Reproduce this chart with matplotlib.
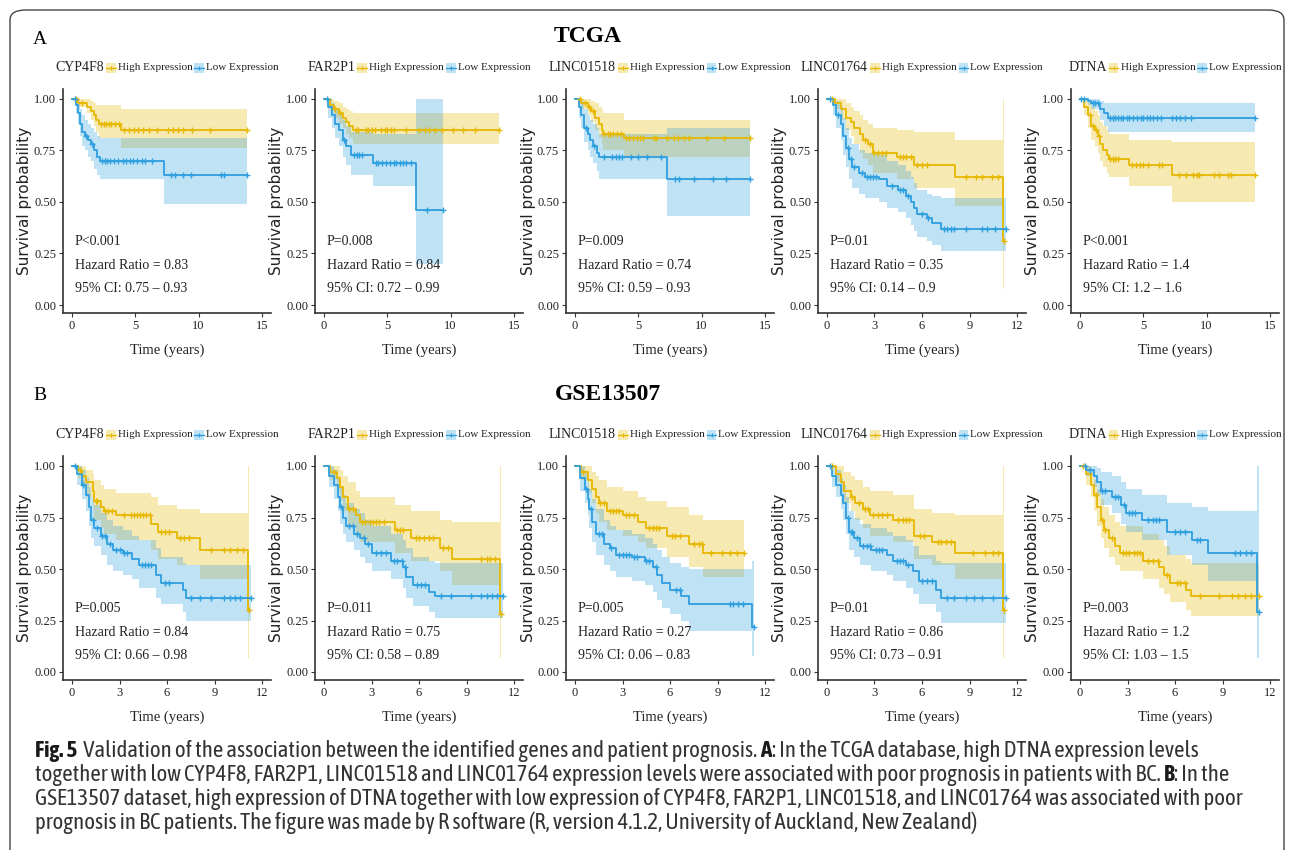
import numpy as np
import matplotlib
matplotlib.use("Agg")
import matplotlib.pyplot as plt
from matplotlib import font_manager
from matplotlib.lines import Line2D
from matplotlib.patches import Rectangle, FancyBboxPatch
from matplotlib.offsetbox import AnchoredOffsetbox, HPacker, TextArea, DrawingArea

# ---- panel text -------------------------------------------------------------
GENES = ["CYP4F8", "FAR2P1", "LINC01518", "LINC01764", "DTNA"]
A_XMAX = [15, 15, 15, 12, 15]
B_XMAX = [12, 12, 12, 12, 12]
A_P = ["P<0.001", "P=0.008", "P=0.009", "P=0.01", "P<0.001"]
A_HR = ["0.83", "0.84", "0.74", "0.35", "1.4"]
A_CI = ["0.75 \u2013 0.93", "0.72 \u2013 0.99", "0.59 \u2013 0.93", "0.14 \u2013 0.9", "1.2 \u2013 1.6"]
B_P = ["P=0.005", "P=0.011", "P=0.005", "P=0.01", "P=0.003"]
B_HR = ["0.84", "0.75", "0.27", "0.86", "1.2"]
B_CI = ["0.66 \u2013 0.98", "0.58 \u2013 0.89", "0.06 \u2013 0.83", "0.73 \u2013 0.91", "1.03 \u2013 1.5"]

# ---- TCGA curves: step times, survival, CI lower/upper, censor times ----------
# CYP4F8
A1_HIGH_T = [0, 0.5, 1.2, 1.5, 1.7, 1.9, 2.1, 3.9, 13.8]
A1_HIGH_S = [1, 0.98, 0.96, 0.94, 0.92, 0.90, 0.88, 0.85, 0.85]
A1_HIGH_LO = [1, 0.96, 0.93, 0.90, 0.87, 0.84, 0.81, 0.76, 0.76]
A1_HIGH_UP = [1, 1.0, 1.0, 0.99, 0.98, 0.97, 0.97, 0.95, 0.95]
A1_HIGH_CENS = [0.3, 0.8, 2.3, 2.5, 2.7, 2.9, 3.1, 3.4, 3.7, 4.1, 4.5, 4.9, 5.2, 5.6, 6.1,
                6.7, 7.6, 8.0, 8.4, 8.8, 9.5, 10.9, 13.8]
A1_LOW_T = [0, 0.3, 0.5, 0.6, 0.8, 1.0, 1.3, 1.5, 1.7, 2.0, 2.2, 7.3, 13.8]
A1_LOW_S = [1, 0.97, 0.93, 0.88, 0.84, 0.82, 0.80, 0.78, 0.75, 0.72, 0.70, 0.63, 0.63]
A1_LOW_LO = [1, 0.93, 0.88, 0.82, 0.77, 0.75, 0.72, 0.70, 0.66, 0.63, 0.61, 0.49, 0.49]
A1_LOW_UP = [1, 1.0, 0.99, 0.95, 0.92, 0.90, 0.88, 0.86, 0.84, 0.82, 0.81, 0.81, 0.81]
A1_LOW_CENS = [0.2, 1.1, 1.6, 2.4, 2.6, 2.8, 3.0, 3.3, 3.6, 4.0, 4.3, 4.6, 4.8, 5.1, 5.5,
               5.8, 6.3, 7.8, 8.1, 8.8, 9.4, 11.8, 12.0, 13.8]
# FAR2P1
A2_HIGH_T = [0, 0.5, 0.8, 1.2, 1.5, 1.7, 2.0, 2.3, 13.8]
A2_HIGH_S = [1, 0.97, 0.95, 0.93, 0.91, 0.89, 0.87, 0.85, 0.85]
A2_HIGH_LO = [1, 0.94, 0.91, 0.88, 0.86, 0.83, 0.81, 0.78, 0.78]
A2_HIGH_UP = [1, 1.0, 0.99, 0.98, 0.96, 0.95, 0.94, 0.93, 0.93]
A2_HIGH_CENS = [0.9, 1.3, 2.5, 2.7, 3.3, 3.5, 3.8, 4.0, 4.5, 4.8, 5.0, 5.3, 5.5, 6.5, 7.5,
                8.0, 8.3, 8.8, 9.3, 10.2, 11.0, 11.9, 13.8]
A2_LOW_T = [0, 0.3, 0.6, 0.9, 1.2, 1.5, 1.7, 2.1, 3.9, 7.3, 9.4]
A2_LOW_S = [1, 0.96, 0.92, 0.88, 0.85, 0.80, 0.77, 0.73, 0.69, 0.46, 0.46]
A2_LOW_LO = [1, 0.91, 0.86, 0.81, 0.77, 0.72, 0.68, 0.63, 0.58, 0.20, 0.20]
A2_LOW_UP = [1, 1.0, 0.98, 0.95, 0.93, 0.90, 0.87, 0.84, 0.83, 1.0, 1.0]
A2_LOW_CENS = [0.2, 1.6, 2.4, 2.6, 2.8, 3.0, 4.1, 4.3, 4.6, 4.9, 5.2, 5.5, 5.7, 6.0, 6.2,
               6.5, 6.9, 8.1, 9.4]
# LINC01518
A3_HIGH_T = [0, 0.5, 1.0, 1.3, 1.6, 1.9, 2.1, 2.2, 3.9, 13.8]
A3_HIGH_S = [1, 0.98, 0.96, 0.94, 0.91, 0.88, 0.85, 0.83, 0.81, 0.81]
A3_HIGH_LO = [1, 0.95, 0.92, 0.89, 0.85, 0.81, 0.78, 0.75, 0.72, 0.72]
A3_HIGH_UP = [1, 1.0, 1.0, 0.99, 0.98, 0.96, 0.95, 0.93, 0.90, 0.90]
A3_HIGH_CENS = [0.4, 0.8, 1.1, 1.4, 2.3, 2.6, 2.8, 3.0, 3.3, 3.6, 4.0, 4.3, 4.6, 4.9, 5.1,
                5.4, 6.2, 6.4, 7.3, 7.8, 8.1, 8.6, 9.0, 10.4, 11.8, 13.8]
A3_LOW_T = [0, 0.3, 0.5, 0.7, 1.0, 1.2, 1.4, 1.7, 1.9, 7.3, 13.8]
A3_LOW_S = [1, 0.96, 0.92, 0.86, 0.83, 0.80, 0.77, 0.74, 0.72, 0.61, 0.61]
A3_LOW_LO = [1, 0.91, 0.86, 0.79, 0.75, 0.72, 0.69, 0.65, 0.61, 0.43, 0.43]
A3_LOW_UP = [1, 1.0, 0.99, 0.95, 0.92, 0.90, 0.88, 0.86, 0.83, 0.86, 0.86]
A3_LOW_CENS = [0.9, 1.5, 2.3, 2.9, 3.2, 3.5, 3.7, 4.4, 5.0, 5.7, 6.8, 7.9, 8.2, 9.4, 10.9,
               11.9, 13.8]
# LINC01764
A4_HIGH_T = [0, 0.5, 0.9, 1.2, 1.5, 1.7, 2.1, 2.3, 2.6, 2.9, 4.4, 5.5, 8.1, 11.1, 11.2]
A4_HIGH_S = [1, 0.98, 0.95, 0.91, 0.89, 0.86, 0.83, 0.80, 0.78, 0.74, 0.72, 0.68, 0.62, 0.31, 0.31]
A4_HIGH_LO = [1, 0.95, 0.90, 0.85, 0.82, 0.78, 0.74, 0.71, 0.68, 0.64, 0.61, 0.57, 0.48, 0.08, 0.08]
A4_HIGH_UP = [1, 1.0, 1.0, 0.98, 0.96, 0.94, 0.92, 0.90, 0.88, 0.86, 0.85, 0.84, 0.80, 1.0, 1.0]
A4_HIGH_CENS = [0.3, 2.4, 2.7, 3.0, 3.2, 3.5, 3.7, 4.6, 4.8, 5.0, 5.3, 5.7, 6.0, 6.3, 8.8,
                9.4, 9.8, 10.4, 10.8, 11.15]
A4_LOW_T = [0, 0.4, 0.6, 0.9, 1.0, 1.2, 1.4, 1.6, 2.0, 2.4, 3.3, 3.8, 4.5, 5.0, 5.3, 5.5,
            5.7, 6.3, 6.6, 7.2, 11.3]
A4_LOW_S = [1, 0.97, 0.92, 0.88, 0.82, 0.76, 0.71, 0.67, 0.64, 0.62, 0.61, 0.58, 0.56, 0.53,
            0.50, 0.47, 0.44, 0.42, 0.40, 0.37, 0.37]
A4_LOW_LO = [1, 0.92, 0.86, 0.80, 0.73, 0.67, 0.61, 0.57, 0.54, 0.52, 0.50, 0.47, 0.45, 0.42,
             0.39, 0.36, 0.33, 0.31, 0.29, 0.26, 0.26]
A4_LOW_UP = [1, 1.0, 0.99, 0.96, 0.91, 0.86, 0.81, 0.78, 0.75, 0.74, 0.73, 0.70, 0.68, 0.65,
             0.62, 0.59, 0.56, 0.54, 0.53, 0.52, 0.52]
A4_LOW_CENS = [0.2, 0.7, 1.3, 1.5, 1.7, 2.2, 2.5, 2.7, 2.9, 3.1, 4.1, 4.6, 4.8, 5.1, 6.0,
               6.4, 7.4, 7.6, 7.8, 8.0, 8.8, 9.8, 10.1, 10.6, 11.3]
# DTNA
A5_HIGH_T = [0, 0.3, 0.6, 0.9, 1.2, 1.4, 1.6, 1.8, 2.1, 2.3, 3.9, 7.3, 13.8]
A5_HIGH_S = [1, 0.96, 0.92, 0.87, 0.85, 0.82, 0.78, 0.75, 0.73, 0.71, 0.68, 0.63, 0.63]
A5_HIGH_LO = [1, 0.92, 0.86, 0.80, 0.77, 0.74, 0.70, 0.67, 0.64, 0.62, 0.58, 0.50, 0.50]
A5_HIGH_UP = [1, 1.0, 0.99, 0.96, 0.94, 0.92, 0.89, 0.87, 0.85, 0.83, 0.80, 0.79, 0.79]
A5_HIGH_CENS = [0.8, 1.0, 1.3, 1.5, 2.4, 2.6, 2.8, 3.0, 4.1, 4.4, 4.7, 5.0, 5.4, 6.2, 6.5,
                7.8, 8.4, 8.9, 9.2, 9.4, 10.6, 11.0, 11.7, 11.9, 13.8]
A5_LOW_T = [0, 0.6, 0.9, 1.5, 1.6, 1.9, 2.2, 13.8]
A5_LOW_S = [1, 0.99, 0.98, 0.97, 0.95, 0.93, 0.91, 0.91]
A5_LOW_LO = [1, 0.97, 0.95, 0.93, 0.90, 0.87, 0.84, 0.84]
A5_LOW_UP = [1, 1.0, 1.0, 1.0, 0.99, 0.98, 0.98, 0.98]
A5_LOW_CENS = [0.1, 0.3, 1.0, 1.2, 1.4, 2.4, 2.6, 2.8, 3.0, 3.2, 3.4, 3.7, 3.9, 4.2, 4.5,
               4.8, 5.0, 5.3, 5.5, 5.8, 6.1, 6.4, 7.3, 7.6, 7.9, 8.3, 8.8, 13.8]

# ---- GSE13507 curves --------------------------------------------------------
# CYP4F8
B1_HIGH_T = [0, 0.4, 0.6, 0.9, 1.3, 1.4, 1.8, 2.0, 2.8, 5.0, 5.4, 6.6, 8.1, 11.1, 11.2]
B1_HIGH_S = [1, 0.98, 0.95, 0.92, 0.88, 0.83, 0.80, 0.78, 0.76, 0.72, 0.68, 0.65, 0.59, 0.30, 0.30]
B1_HIGH_LO = [1, 0.94, 0.90, 0.85, 0.80, 0.74, 0.70, 0.67, 0.64, 0.59, 0.55, 0.52, 0.45, 0.07, 0.07]
B1_HIGH_UP = [1, 1.0, 1.0, 0.98, 0.96, 0.93, 0.91, 0.89, 0.87, 0.85, 0.81, 0.79, 0.77, 1.0, 1.0]
B1_HIGH_CENS = [0.5, 1.5, 1.6, 2.1, 2.3, 2.5, 3.3, 3.7, 3.9, 4.1, 4.3, 4.5, 4.7, 4.9, 5.6,
                5.9, 6.1, 6.8, 7.1, 7.4, 8.8, 9.6, 10.0, 10.4, 10.8, 11.15]
B1_LOW_T = [0, 0.3, 0.6, 0.9, 1.1, 1.2, 1.4, 1.8, 2.2, 2.6, 3.2, 3.8, 4.2, 5.3, 5.6, 7.0, 7.2, 11.3]
B1_LOW_S = [1, 0.96, 0.91, 0.86, 0.80, 0.74, 0.70, 0.66, 0.62, 0.59, 0.58, 0.55, 0.52, 0.47,
            0.43, 0.40, 0.36, 0.36]
B1_LOW_LO = [1, 0.91, 0.84, 0.78, 0.71, 0.65, 0.61, 0.57, 0.52, 0.49, 0.47, 0.45, 0.41, 0.36,
             0.33, 0.29, 0.25, 0.25]
B1_LOW_UP = [1, 1.0, 0.98, 0.94, 0.90, 0.85, 0.81, 0.77, 0.74, 0.71, 0.69, 0.66, 0.64, 0.60,
             0.56, 0.53, 0.52, 0.52]
B1_LOW_CENS = [0.2, 0.7, 1.3, 1.6, 1.9, 2.1, 2.4, 2.8, 3.0, 3.3, 3.5, 4.4, 4.6, 4.8, 5.0,
               5.9, 6.1, 7.5, 8.1, 8.8, 9.6, 10.0, 10.3, 10.6, 11.3]
# FAR2P1
B2_HIGH_T = [0, 0.4, 0.8, 1.0, 1.2, 1.5, 2.0, 2.3, 4.5, 5.5, 7.3, 8.1, 11.1, 11.2]
B2_HIGH_S = [1, 0.97, 0.94, 0.90, 0.85, 0.79, 0.76, 0.73, 0.69, 0.65, 0.60, 0.55, 0.28, 0.28]
B2_HIGH_LO = [1, 0.93, 0.88, 0.83, 0.78, 0.71, 0.67, 0.63, 0.58, 0.54, 0.49, 0.42, 0.07, 0.07]
B2_HIGH_UP = [1, 1.0, 1.0, 0.98, 0.95, 0.92, 0.88, 0.85, 0.81, 0.78, 0.74, 0.73, 1.0, 1.0]
B2_HIGH_CENS = [0.6, 1.6, 1.8, 2.4, 2.6, 2.9, 3.1, 3.3, 3.5, 3.8, 4.6, 4.8, 5.0, 5.8, 6.0,
                6.3, 6.6, 6.9, 7.5, 7.8, 9.9, 10.3, 10.5, 10.8, 11.15]
B2_LOW_T = [0, 0.3, 0.6, 0.9, 1.0, 1.2, 1.4, 1.9, 2.3, 2.6, 3.0, 4.2, 5.0, 5.2, 5.6, 6.6, 7.0, 11.3]
B2_LOW_S = [1, 0.95, 0.91, 0.85, 0.80, 0.75, 0.71, 0.67, 0.65, 0.62, 0.58, 0.54, 0.51, 0.46,
            0.42, 0.39, 0.37, 0.37]
B2_LOW_LO = [1, 0.90, 0.84, 0.78, 0.72, 0.67, 0.63, 0.59, 0.56, 0.53, 0.49, 0.45, 0.41, 0.36,
             0.32, 0.29, 0.26, 0.26]
B2_LOW_UP = [1, 1.0, 0.98, 0.94, 0.90, 0.86, 0.82, 0.79, 0.77, 0.74, 0.71, 0.67, 0.64, 0.60,
             0.56, 0.54, 0.53, 0.53]
B2_LOW_CENS = [1.1, 1.6, 1.8, 2.1, 2.5, 2.8, 3.3, 3.6, 3.9, 4.4, 4.6, 4.9, 5.1, 5.9, 6.1,
               6.4, 7.4, 8.0, 9.3, 9.9, 10.3, 10.6, 10.9, 11.3]
# LINC01518
B3_HIGH_T = [0, 0.4, 0.8, 1.1, 1.3, 1.5, 2.0, 3.0, 4.0, 4.5, 5.8, 7.2, 8.1, 10.7]
B3_HIGH_S = [1, 0.97, 0.93, 0.89, 0.85, 0.82, 0.78, 0.76, 0.73, 0.70, 0.66, 0.62, 0.58, 0.58]
B3_HIGH_LO = [1, 0.93, 0.87, 0.82, 0.77, 0.73, 0.69, 0.66, 0.63, 0.60, 0.56, 0.51, 0.46, 0.46]
B3_HIGH_UP = [1, 1.0, 1.0, 0.97, 0.95, 0.93, 0.90, 0.88, 0.85, 0.83, 0.80, 0.76, 0.74, 0.74]
B3_HIGH_CENS = [0.5, 1.6, 1.8, 2.2, 2.4, 2.6, 2.8, 3.2, 3.4, 3.7, 4.7, 4.9, 5.1, 5.3, 6.1,
                6.3, 6.6, 7.5, 7.8, 8.0, 8.6, 9.3, 9.8, 10.2, 10.7]
B3_LOW_T = [0, 0.3, 0.6, 0.8, 0.9, 1.1, 1.3, 1.8, 2.2, 2.6, 3.6, 4.4, 4.9, 5.2, 5.5, 6.0,
            6.7, 7.2, 11.2, 11.3]
B3_LOW_S = [1, 0.94, 0.89, 0.84, 0.79, 0.73, 0.67, 0.62, 0.60, 0.57, 0.56, 0.54, 0.51, 0.47,
            0.43, 0.40, 0.37, 0.33, 0.22, 0.22]
B3_LOW_LO = [1, 0.88, 0.82, 0.76, 0.70, 0.63, 0.57, 0.52, 0.49, 0.46, 0.44, 0.42, 0.39, 0.35,
             0.31, 0.28, 0.25, 0.20, 0.08, 0.08]
B3_LOW_UP = [1, 1.0, 0.97, 0.93, 0.89, 0.84, 0.79, 0.74, 0.71, 0.69, 0.67, 0.65, 0.62, 0.59,
             0.56, 0.53, 0.51, 0.50, 0.54, 0.54]
B3_LOW_CENS = [0.7, 1.0, 1.5, 1.7, 2.3, 2.8, 3.0, 3.2, 3.4, 3.7, 3.9, 4.5, 4.7, 5.1, 6.4,
               6.6, 9.8, 10.0, 10.3, 10.6, 11.3]
# LINC01764
B4_HIGH_T = [0, 0.6, 0.9, 1.1, 1.5, 1.8, 2.3, 2.7, 4.2, 5.5, 6.6, 8.1, 11.1, 11.2]
B4_HIGH_S = [1, 0.96, 0.92, 0.88, 0.85, 0.82, 0.79, 0.76, 0.74, 0.66, 0.63, 0.58, 0.30, 0.30]
B4_HIGH_LO = [1, 0.92, 0.87, 0.82, 0.78, 0.74, 0.70, 0.66, 0.63, 0.55, 0.52, 0.45, 0.07, 0.07]
B4_HIGH_UP = [1, 1.0, 1.0, 0.97, 0.95, 0.93, 0.90, 0.88, 0.86, 0.79, 0.77, 0.76, 1.0, 1.0]
B4_HIGH_CENS = [0.3, 1.6, 2.0, 2.4, 2.6, 2.9, 3.2, 3.5, 3.8, 4.5, 4.8, 5.0, 5.2, 5.9, 6.1,
                7.0, 7.2, 7.5, 7.8, 9.2, 10.0, 10.5, 10.8, 11.15]
B4_LOW_T = [0, 0.3, 0.6, 0.9, 1.0, 1.2, 1.4, 1.7, 2.1, 2.8, 3.8, 4.2, 5.0, 5.4, 5.8, 6.9, 7.2, 11.3]
B4_LOW_S = [1, 0.95, 0.91, 0.86, 0.82, 0.75, 0.68, 0.65, 0.61, 0.59, 0.57, 0.54, 0.52, 0.49,
            0.44, 0.40, 0.36, 0.36]
B4_LOW_LO = [1, 0.90, 0.85, 0.79, 0.74, 0.67, 0.59, 0.56, 0.52, 0.49, 0.47, 0.44, 0.41, 0.38,
             0.33, 0.29, 0.24, 0.24]
B4_LOW_UP = [1, 1.0, 0.98, 0.94, 0.91, 0.85, 0.78, 0.75, 0.72, 0.70, 0.68, 0.66, 0.64, 0.61,
             0.57, 0.54, 0.53, 0.53]
B4_LOW_CENS = [0.2, 1.3, 1.5, 1.6, 1.9, 2.3, 2.5, 2.7, 3.1, 3.3, 3.5, 4.4, 4.6, 4.8, 5.1,
               6.0, 6.3, 6.6, 7.6, 8.0, 8.8, 9.3, 9.8, 10.5, 11.3]
# DTNA
B5_HIGH_T = [0, 0.4, 0.7, 0.9, 1.1, 1.3, 1.5, 1.8, 2.2, 2.5, 4.0, 5.0, 5.3, 5.7, 6.7, 7.0, 11.3]
B5_HIGH_S = [1, 0.96, 0.91, 0.86, 0.80, 0.74, 0.69, 0.65, 0.61, 0.58, 0.54, 0.51, 0.47, 0.43,
             0.40, 0.37, 0.37]
B5_HIGH_LO = [1, 0.91, 0.85, 0.78, 0.71, 0.65, 0.60, 0.56, 0.52, 0.49, 0.45, 0.41, 0.38, 0.34,
              0.30, 0.27, 0.27]
B5_HIGH_UP = [1, 1.0, 0.97, 0.93, 0.89, 0.84, 0.80, 0.76, 0.73, 0.71, 0.67, 0.64, 0.61, 0.57,
              0.55, 0.53, 0.53]
B5_HIGH_CENS = [0.2, 1.0, 1.4, 1.6, 2.0, 2.7, 2.9, 3.1, 3.4, 3.6, 3.8, 4.3, 4.6, 4.9, 5.5,
                6.1, 6.3, 6.6, 7.6, 8.8, 9.6, 10.0, 10.4, 10.8, 11.3]
B5_LOW_T = [0, 0.4, 0.9, 1.1, 1.3, 2.0, 2.6, 2.9, 3.9, 5.5, 7.1, 8.1, 11.2, 11.3]
B5_LOW_S = [1, 0.98, 0.95, 0.92, 0.88, 0.85, 0.81, 0.77, 0.74, 0.68, 0.64, 0.58, 0.29, 0.29]
B5_LOW_LO = [1, 0.95, 0.90, 0.86, 0.81, 0.77, 0.72, 0.68, 0.64, 0.57, 0.52, 0.44, 0.07, 0.07]
B5_LOW_UP = [1, 1.0, 1.0, 0.99, 0.97, 0.95, 0.92, 0.89, 0.86, 0.82, 0.80, 0.78, 1.0, 1.0]
B5_LOW_CENS = [0.3, 0.6, 1.4, 1.6, 2.2, 2.4, 2.8, 3.1, 3.3, 3.5, 4.3, 4.6, 4.8, 5.0, 6.0,
               6.3, 6.6, 7.4, 7.6, 9.8, 10.1, 10.5, 10.8, 11.3]

CAPTION = [
    [("Fig. 5", True), ("  Validation of the association between the identified genes and patient prognosis. ", False),
     ("A", True), (": In the TCGA database, high DTNA expression levels", False)],
    [("together with low CYP4F8, FAR2P1, LINC01518 and LINC01764 expression levels were associated with poor "
      "prognosis in patients with BC. ", False), ("B", True), (": In the", False)],
    [("GSE13507 dataset, high expression of DTNA together with low expression of CYP4F8, FAR2P1, LINC01518, "
      "and LINC01764 was associated with poor", False)],
    [("prognosis in BC patients. The figure was made by R software (R, version 4.1.2, University of Auckland, "
      "New Zealand)", False)],
]

HIGH_COLOR = "#E7B800"
LOW_COLOR = "#2E9FDF"
AXIS_COLOR = "#333333"
TEXT_COLOR = "#222222"

_names = {f.name for f in font_manager.fontManager.ttflist}
SERIF = "Liberation Serif"
CAPTION_FAMILY = next((n for n in ("Asap Condensed", "Encode Sans Condensed", "Open Sans") if n in _names),
                      "DejaVu Sans")

plt.rcParams["font.family"] = SERIF

W, H = 1290, 850
fig = plt.figure(figsize=(W / 100, H / 100), dpi=100)


def fx(px):
    return px / W


def fy(py):
    return 1 - py / H


def step_value(t, s, x):
    idx = np.searchsorted(t, x, side="right") - 1
    return np.asarray(s)[np.clip(idx, 0, len(s) - 1)]


def draw_curve(ax, t, s, lo, up, cens, color):
    ax.fill_between(t, lo, up, step="post", color=color, alpha=0.3, lw=0, zorder=1)
    ax.step(t, s, where="post", color=color, lw=1.3, zorder=3)
    ax.plot(cens, step_value(t, s, cens), ls="none", marker="+", ms=4.5, mew=1.0,
            color=color, zorder=4)


def legend_key(color):
    da = DrawingArea(7, 7, 0, 0)
    da.add_artist(Rectangle((0, 0), 7, 7, fc=color, alpha=0.3, ec="none"))
    da.add_artist(Line2D([0, 7], [3.5, 3.5], color=color, lw=1.0))
    da.add_artist(Line2D([3.5], [3.5], marker="+", ms=3, mew=0.8, color=color))
    return da


def draw_panel(ax, gene, high, low, xmax, p, hr, ci):
    ppu = 190 / xmax
    ax.set_xlim(-9 / ppu, 199 / ppu)
    ax.set_ylim(-8 / 206, 1 + 10 / 206)
    draw_curve(ax, *high, HIGH_COLOR)
    draw_curve(ax, *low, LOW_COLOR)

    step = 5 if xmax == 15 else 3
    ax.set_xticks(np.arange(0, xmax + 1, step))
    ax.set_yticks([0, 0.25, 0.5, 0.75, 1.0])
    ax.set_yticklabels(["0.00", "0.25", "0.50", "0.75", "1.00"])
    for side in ("top", "right"):
        ax.spines[side].set_visible(False)
    for side in ("left", "bottom"):
        ax.spines[side].set_color(AXIS_COLOR)
        ax.spines[side].set_linewidth(1.2)
    ax.tick_params(direction="out", length=3, width=0.8, color=AXIS_COLOR,
                   labelsize=9, pad=2, labelcolor=TEXT_COLOR)

    ax.text(-38 / 208, 0.5, "Survival probability", transform=ax.transAxes, rotation=90,
            ha="center", va="center", fontsize=11, family="DejaVu Sans", color=TEXT_COLOR)
    ax.text(0.5, -37 / 224, "Time (years)", transform=ax.transAxes, ha="center",
            va="center", fontsize=10.5, color=TEXT_COLOR)

    for y, s in zip((0.32, 0.214, 0.11), (p, "Hazard Ratio = " + hr, "95% CI: " + ci)):
        ax.text(12 / 208, y, s, transform=ax.transAxes, ha="left", va="center",
                fontsize=10, color=TEXT_COLOR)

    items = [TextArea(gene, textprops=dict(fontsize=10, color=TEXT_COLOR)),
             legend_key(HIGH_COLOR),
             TextArea("High Expression", textprops=dict(fontsize=8, color=TEXT_COLOR)),
             legend_key(LOW_COLOR),
             TextArea("Low Expression", textprops=dict(fontsize=8, color=TEXT_COLOR))]
    box = HPacker(children=items, align="center", pad=0, sep=1.5)
    anchored = AnchoredOffsetbox(loc="lower center", child=box, pad=0, borderpad=0,
                                 frameon=False, bbox_to_anchor=(0.5, 1.065),
                                 bbox_transform=ax.transAxes)
    ax.add_artist(anchored)


A_CURVES = [
    ((A1_HIGH_T, A1_HIGH_S, A1_HIGH_LO, A1_HIGH_UP, A1_HIGH_CENS),
     (A1_LOW_T, A1_LOW_S, A1_LOW_LO, A1_LOW_UP, A1_LOW_CENS)),
    ((A2_HIGH_T, A2_HIGH_S, A2_HIGH_LO, A2_HIGH_UP, A2_HIGH_CENS),
     (A2_LOW_T, A2_LOW_S, A2_LOW_LO, A2_LOW_UP, A2_LOW_CENS)),
    ((A3_HIGH_T, A3_HIGH_S, A3_HIGH_LO, A3_HIGH_UP, A3_HIGH_CENS),
     (A3_LOW_T, A3_LOW_S, A3_LOW_LO, A3_LOW_UP, A3_LOW_CENS)),
    ((A4_HIGH_T, A4_HIGH_S, A4_HIGH_LO, A4_HIGH_UP, A4_HIGH_CENS),
     (A4_LOW_T, A4_LOW_S, A4_LOW_LO, A4_LOW_UP, A4_LOW_CENS)),
    ((A5_HIGH_T, A5_HIGH_S, A5_HIGH_LO, A5_HIGH_UP, A5_HIGH_CENS),
     (A5_LOW_T, A5_LOW_S, A5_LOW_LO, A5_LOW_UP, A5_LOW_CENS)),
]
B_CURVES = [
    ((B1_HIGH_T, B1_HIGH_S, B1_HIGH_LO, B1_HIGH_UP, B1_HIGH_CENS),
     (B1_LOW_T, B1_LOW_S, B1_LOW_LO, B1_LOW_UP, B1_LOW_CENS)),
    ((B2_HIGH_T, B2_HIGH_S, B2_HIGH_LO, B2_HIGH_UP, B2_HIGH_CENS),
     (B2_LOW_T, B2_LOW_S, B2_LOW_LO, B2_LOW_UP, B2_LOW_CENS)),
    ((B3_HIGH_T, B3_HIGH_S, B3_HIGH_LO, B3_HIGH_UP, B3_HIGH_CENS),
     (B3_LOW_T, B3_LOW_S, B3_LOW_LO, B3_LOW_UP, B3_LOW_CENS)),
    ((B4_HIGH_T, B4_HIGH_S, B4_HIGH_LO, B4_HIGH_UP, B4_HIGH_CENS),
     (B4_LOW_T, B4_LOW_S, B4_LOW_LO, B4_LOW_UP, B4_LOW_CENS)),
    ((B5_HIGH_T, B5_HIGH_S, B5_HIGH_LO, B5_HIGH_UP, B5_HIGH_CENS),
     (B5_LOW_T, B5_LOW_S, B5_LOW_LO, B5_LOW_UP, B5_LOW_CENS)),
]

COL_LEFT = [63, 315, 566, 818, 1071]
rows = [(89, A_CURVES, A_XMAX, A_P, A_HR, A_CI), (456, B_CURVES, B_XMAX, B_P, B_HR, B_CI)]
for top, curves, xmaxes, ps, hrs, cis in rows:
    for i, left in enumerate(COL_LEFT):
        ax = fig.add_axes([fx(left), fy(top + 224), 208 / W, 224 / H])
        high, low = curves[i]
        draw_panel(ax, GENES[i], high, low, xmaxes[i], ps[i], hrs[i], cis[i])

# outer frame with rounded corner
frame = FancyBboxPatch((fx(10), fy(870)), fx(1284) - fx(10), fy(10) - fy(870),
                       boxstyle="round,pad=0,rounding_size=0.012", transform=fig.transFigure,
                       fc="none", ec="#444444", lw=1.0, clip_on=False)
fig.patches.append(frame)

fig.text(fx(588), fy(37), "TCGA", ha="center", va="center", fontsize=17, weight="bold")
fig.text(fx(608), fy(394), "GSE13507", ha="center", va="center", fontsize=17, weight="bold")
fig.text(fx(33), fy(40), "A", ha="left", va="center", fontsize=14)
fig.text(fx(33), fy(396), "B", ha="left", va="center", fontsize=14)

# caption, sized so the widest line fits the frame
renderer = fig.canvas.get_renderer()
probe = fig.text(0, 0, CAPTION[2][0][0], fontsize=12, family=CAPTION_FAMILY, style="normal")
width = probe.get_window_extent(renderer).width
probe.remove()
cap_size = 12 * 1207 / width
for line, y in zip(CAPTION, (751, 775, 799, 823)):
    x = fx(35)
    for text, bold in line:
        t = fig.text(x, fy(y), text, ha="left", va="center", fontsize=cap_size,
                     family=CAPTION_FAMILY, style="normal",
                     weight="bold" if bold else "normal",
                     color="#1a1a1a" if bold else "#333333")
        x += t.get_window_extent(renderer).width / W

fig.savefig("out.png", dpi=100)
